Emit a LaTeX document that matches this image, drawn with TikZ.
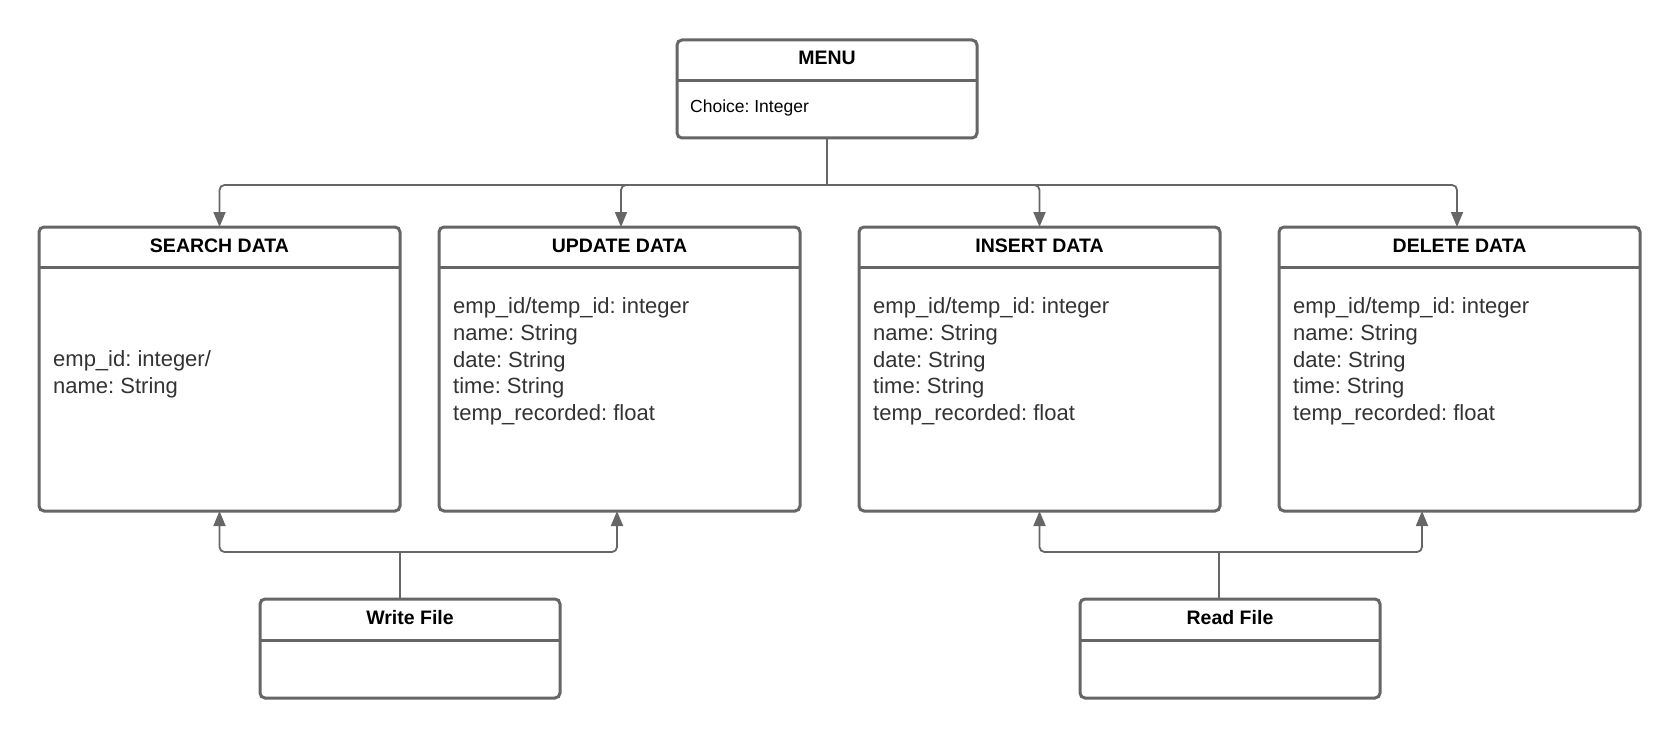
\documentclass[tikz,border=0pt]{standalone}
\usepackage{fontspec}
\setmainfont{Liberation Sans}
\usetikzlibrary{arrows.meta,calc}
\definecolor{lc}{HTML}{666666}
\definecolor{tc}{HTML}{333333}
\frenchspacing
\begin{document}
\begin{tikzpicture}[x=1pt,y=-1pt,
 box/.style={draw=lc,line width=3pt,rounded corners=5pt,anchor=north west,inner sep=0pt,outer sep=0pt},
 divider/.style={draw=lc,line width=3pt},
 ttl/.style={font=\fontsize{19.5}{23}\selectfont\bfseries,inner sep=0pt},
 body/.style={font=\fontsize{22}{26.8}\selectfont\frenchspacing,align=left,anchor=west,inner sep=0pt,text=tc},
 conn/.style={draw=lc,line width=1.8pt},
 arr/.style={conn,rounded corners=5pt,-{Triangle[length=15pt,width=12pt]}}]
\useasboundingbox (0,0) rectangle (1680,738);
% MENU
\node[box,minimum width=300pt,minimum height=98pt] (menu) at (677,40) {};
\draw[divider] (677,81) -- (977,81);
\node[ttl] (menu-t) at (827,58) {MENU};
\node[inner sep=0pt,anchor=west,font=\fontsize{17.5}{21}\selectfont\frenchspacing,text=black] (menu-b) at (690,108) {Choice: Integer};
% data boxes
\foreach \n/\x/\t in {search/39/SEARCH DATA,update/439/UPDATE DATA,insert/859/INSERT DATA,delete/1279/DELETE DATA}{
  \node[box,minimum width=361pt,minimum height=284pt] (\n) at (\x,227) {};
  \draw[divider] (\x,267) -- ({\x+361},267);
  \node[ttl] (\n-t) at ({\x+180.5},245.5) {\t};
}
\node[body] (search-b) at (53,374.5) {emp\_id: integer/\\name: String};
\foreach \n/\x in {update/439,insert/859,delete/1279}{
  \node[body] (\n-b) at ({\x+14},361.5) {emp\_id/temp\_id: integer\\name: String\\date: String\\time: String\\temp\_recorded: float};
}
% file boxes
\node[box,minimum width=300pt,minimum height=99pt] (write) at (260,599) {};
\draw[divider] (260,640) -- (560,640);
\node[ttl] (write-t) at (410,618) {Write File};
\node[box,minimum width=300pt,minimum height=99pt] (read) at (1080,599) {};
\draw[divider] (1080,640) -- (1380,640);
\node[ttl] (read-t) at (1230,618) {Read File};
% connectors from menu
\coordinate (hub) at (827,185);
\draw[conn] (menu.south) -- (hub);
\draw[arr] (hub) -| (search.north);
\draw[arr] (hub) -| ([xshift=1.5pt]update.north);
\draw[arr] (hub) -| (insert.north);
\draw[arr] (hub) -| ([xshift=-2.5pt]delete.north);
% write file connectors
\coordinate (wh) at (400,552);
\draw[conn] (write.north -| wh) -- (wh);
\draw[arr] (wh) -| (search.south);
\draw[arr] (wh) -| ([xshift=178pt]update.south west);
% read file connectors
\coordinate (rh) at (1219,552);
\draw[conn] (read.north -| rh) -- (rh);
\draw[arr] (rh) -| (insert.south);
\draw[arr] (rh) -| ([xshift=143pt]delete.south west);
\end{tikzpicture}
\end{document}
